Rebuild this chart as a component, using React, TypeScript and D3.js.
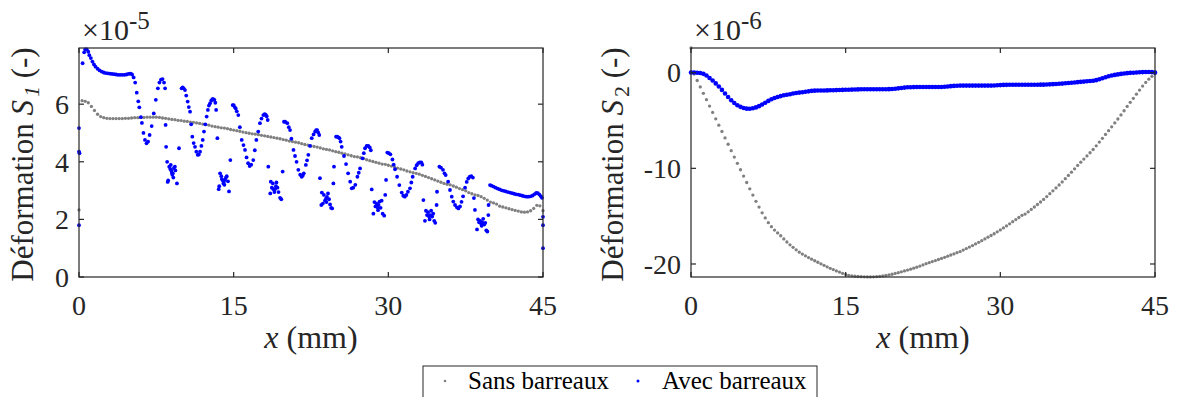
import React from "react";
import * as d3 from "d3";

// ---- data ----
const xTicks = [0, 15, 30, 45];
const yTicksS1 = [0, 2, 4, 6];
const yTicksS2 = [0, -10, -20];
const seriesNames = ["Sans barreaux", "Avec barreaux"];
const xStep = 0.3; // sampling step (mm) of the smooth series

// S1, sans barreaux (x1e-5), x = 0, 0.3, ... 45
const sansS1 = [
  2.33, 6.12, 6.10, 6.05, 5.92, 5.78, 5.65, 5.57, 5.53, 5.51,
  5.50, 5.50, 5.50, 5.50, 5.50, 5.51, 5.51, 5.52, 5.53, 5.53,
  5.54, 5.54, 5.55, 5.55, 5.55, 5.55, 5.54, 5.52, 5.51, 5.49,
  5.47, 5.46, 5.44, 5.43, 5.41, 5.40, 5.38, 5.37, 5.35, 5.33,
  5.31, 5.29, 5.27, 5.24, 5.22, 5.20, 5.18, 5.17, 5.15, 5.12,
  5.10, 5.08, 5.06, 5.03, 5.01, 4.99, 4.97, 4.96, 4.94, 4.92,
  4.90, 4.88, 4.86, 4.84, 4.82, 4.80, 4.77, 4.75, 4.72, 4.70,
  4.68, 4.66, 4.63, 4.60, 4.58, 4.55, 4.53, 4.51, 4.48, 4.45,
  4.43, 4.41, 4.38, 4.35, 4.33, 4.30, 4.27, 4.24, 4.21, 4.18,
  4.17, 4.14, 4.11, 4.07, 4.04, 4.01, 3.98, 3.95, 3.92, 3.91,
  3.88, 3.85, 3.82, 3.78, 3.75, 3.72, 3.68, 3.65, 3.62, 3.60,
  3.57, 3.53, 3.49, 3.45, 3.41, 3.37, 3.33, 3.29, 3.25, 3.22,
  3.20, 3.16, 3.12, 3.07, 3.03, 2.99, 2.93, 2.89, 2.85, 2.83,
  2.79, 2.73, 2.67, 2.60, 2.57, 2.53, 2.46, 2.43, 2.40, 2.37,
  2.34, 2.31, 2.29, 2.26, 2.25, 2.26, 2.30, 2.38, 2.49, 2.47,
  2.30,
];

// S1, avec barreaux (x1e-5) as [x mm, value]
const avecS1: [number, number][] = [
  [0, 1.8], [0, 4.35], [0, 5.17], [0.05, 4.3],
  [0.35, 7.42], [0.5, 7.8], [0.6, 7.9], [0.75, 7.9], [0.9, 7.82], [1.0, 7.7], [1.15, 7.6], [1.3, 7.48],
  [1.45, 7.38], [1.6, 7.3], [1.8, 7.23], [2.0, 7.17], [2.2, 7.13], [2.4, 7.1], [2.6, 7.08], [2.8, 7.07],
  [3.0, 7.06], [3.2, 7.05], [3.4, 7.04], [3.6, 7.03], [3.8, 7.02], [4.0, 7.02], [4.2, 7.02], [4.4, 7.02],
  [4.6, 7.03], [4.8, 7.05], [5.0, 7.06], [5.15, 7.03], [5.3, 6.93], [5.45, 6.75], [5.6, 6.4], [5.75, 6.1],
  [5.85, 5.89], [6.0, 5.55], [6.1, 5.35], [6.25, 5.0], [6.4, 4.76], [6.55, 4.64], [6.7, 4.7], [6.85, 4.93],
  [7.05, 5.24], [7.25, 5.68], [7.45, 6.15], [7.65, 6.55], [7.8, 6.75], [7.95, 6.85], [8.1, 6.87], [8.25, 6.75],
  [8.35, 6.55], [8.4, 5.28], [8.45, 4.52], [8.55, 4.0],
  [8.6, 3.3], [8.65, 3.35], [8.75, 3.83], [8.85, 3.75], [8.9, 3.89], [8.95, 3.7], [9.0, 3.62], [9.05, 3.55],
  [9.1, 3.6], [9.15, 3.45], [9.2, 3.78], [9.3, 3.83], [9.35, 3.7], [9.5, 3.25], [9.7, 4.47],
  [9.95, 6.55], [10.05, 6.58], [10.15, 6.55], [10.28, 6.49], [10.4, 6.3], [10.54, 6.09], [10.65, 5.9],
  [10.77, 5.74], [10.88, 5.3], [10.99, 4.87], [11.12, 4.65], [11.25, 4.52], [11.38, 4.35], [11.51, 4.24],
  [11.62, 4.25], [11.74, 4.35], [11.87, 4.55], [12.0, 4.76], [12.12, 5.05], [12.25, 5.3], [12.38, 5.57],
  [12.5, 5.8], [12.6, 5.95], [12.71, 6.03], [12.82, 6.12], [12.93, 6.17], [13.03, 6.17], [13.13, 6.15],
  [13.22, 6.05], [13.3, 5.8], [13.42, 4.82],
  [13.55, 3.05], [13.6, 3.15], [13.68, 3.6], [13.8, 3.5], [13.85, 3.4], [13.95, 3.35], [14.0, 3.25],
  [14.05, 3.3], [14.1, 3.2], [14.17, 3.38], [14.25, 3.45], [14.33, 3.5], [14.45, 3.32], [14.55, 2.97], [14.68, 4.06],
  [14.9, 5.97], [15.0, 5.97], [15.1, 5.9], [15.2, 5.85], [15.3, 5.75], [15.45, 5.62], [15.6, 5.2], [15.78, 4.76],
  [15.95, 4.58], [16.1, 4.41], [16.25, 4.15], [16.4, 3.95], [16.55, 3.85], [16.7, 3.9], [16.9, 4.06],
  [17.05, 4.4], [17.2, 4.76], [17.38, 5.05], [17.55, 5.34], [17.7, 5.5], [17.88, 5.62], [18.0, 5.65],
  [18.1, 5.64], [18.2, 5.58], [18.3, 5.45], [18.36, 3.83],
  [18.55, 2.9], [18.6, 3.31], [18.7, 3.1], [18.8, 3.25], [18.85, 3.05], [18.95, 2.95], [19.0, 3.05],
  [19.1, 3.15], [19.15, 3.28], [19.25, 3.1], [19.35, 2.95], [19.5, 2.75], [19.62, 2.7], [19.75, 3.66],
  [19.88, 5.39], [20.0, 5.39], [20.2, 5.34], [20.35, 5.2], [20.47, 5.1], [20.6, 4.8], [20.8, 4.41],
  [20.95, 4.2], [21.1, 4.0], [21.27, 3.72], [21.45, 3.55], [21.6, 3.48], [21.7, 3.52], [21.8, 3.6],
  [22.0, 3.89], [22.12, 4.05], [22.24, 4.24], [22.4, 4.55], [22.57, 4.82], [22.75, 4.95], [22.9, 5.05],
  [23.0, 5.1], [23.1, 5.1], [23.2, 5.02], [23.3, 4.93], [23.37, 3.43],
  [23.5, 2.5], [23.55, 2.93], [23.65, 2.55], [23.75, 2.85], [23.85, 2.65], [23.95, 2.72], [24.0, 2.6],
  [24.05, 2.78], [24.15, 2.9], [24.25, 2.7], [24.35, 2.52], [24.45, 2.4], [24.55, 2.38], [24.67, 3.25], [24.73, 3.83],
  [24.93, 4.87], [25.05, 4.87], [25.15, 4.85], [25.26, 4.82], [25.37, 4.7], [25.48, 4.52], [25.7, 4.2],
  [25.9, 3.92], [26.1, 3.6], [26.3, 3.31], [26.45, 3.08], [26.6, 3.1], [26.8, 3.2], [27.0, 3.48],
  [27.13, 3.62], [27.26, 3.77], [27.5, 4.12], [27.62, 4.3], [27.74, 4.47], [27.9, 4.55], [28.06, 4.55],
  [28.2, 4.5], [28.3, 4.4], [28.39, 3.04],
  [28.55, 2.2], [28.65, 2.6], [28.75, 2.45], [28.85, 2.55], [28.95, 2.42], [29.0, 2.32], [29.05, 2.5],
  [29.15, 2.62], [29.25, 2.4], [29.35, 2.65], [29.45, 2.2], [29.6, 2.13], [29.7, 2.85], [29.78, 3.37],
  [29.9, 4.32], [30.05, 4.3], [30.2, 4.26], [30.4, 4.08], [30.52, 3.9], [30.65, 3.74], [30.85, 3.48],
  [31.07, 3.19], [31.3, 2.93], [31.45, 2.82], [31.6, 2.79], [31.75, 2.85], [31.9, 2.96], [32.1, 3.08],
  [32.23, 3.28], [32.36, 3.48], [32.6, 3.77], [32.75, 3.88], [32.9, 3.95], [33.05, 3.98], [33.2, 3.98],
  [33.3, 3.9], [33.4, 2.67],
  [33.55, 1.95], [33.65, 2.3], [33.75, 2.15], [33.85, 2.25], [33.95, 2.1], [34.0, 2.0], [34.05, 2.15],
  [34.15, 2.3], [34.25, 2.1], [34.35, 2.2], [34.45, 1.95], [34.55, 1.88], [34.68, 2.5], [34.72, 2.96],
  [34.95, 3.83], [35.1, 3.8], [35.3, 3.72], [35.45, 3.6], [35.56, 3.54], [35.8, 3.31], [35.98, 3.02],
  [36.15, 2.79], [36.3, 2.62], [36.47, 2.5], [36.65, 2.42], [36.8, 2.38], [36.95, 2.45], [37.1, 2.61],
  [37.25, 2.8], [37.44, 3.1], [37.6, 3.3], [37.75, 3.42], [37.9, 3.48], [38.05, 3.5], [38.2, 3.45],
  [38.3, 2.74], [38.4, 2.33],
  [38.6, 1.65], [38.7, 2.0], [38.8, 1.9], [38.9, 1.95], [39.0, 1.85], [39.05, 1.78], [39.1, 1.9],
  [39.2, 2.02], [39.3, 1.82], [39.4, 1.88], [39.5, 1.62], [39.6, 1.58], [39.7, 2.15], [39.72, 2.5],
  [39.86, 3.19], [40.0, 3.17], [40.2, 3.14], [40.4, 3.1], [40.6, 3.07], [40.8, 3.04], [41.0, 3.01],
  [41.2, 2.99], [41.4, 2.97], [41.6, 2.95], [41.8, 2.93], [42.0, 2.91], [42.2, 2.89], [42.4, 2.87],
  [42.6, 2.86], [42.8, 2.84], [43.0, 2.82], [43.2, 2.8], [43.4, 2.79], [43.6, 2.79], [43.8, 2.8],
  [44.0, 2.83], [44.2, 2.88], [44.35, 2.92], [44.5, 2.91], [44.65, 2.86], [44.8, 2.8], [44.9, 2.75],
  [45, 2.09], [45, 1.8], [45, 1.0],
];

// S2, sans barreaux (x1e-6), x = 0, 0.3, ... 45
const sansS2 = [
  2.58, -0.15, -0.82, -1.49, -2.16, -2.82, -3.49, -4.15, -4.82, -5.49,
  -6.15, -6.82, -7.48, -8.15, -8.82, -9.48, -10.15, -10.81, -11.48, -12.14,
  -12.8, -13.45, -14.05, -14.65, -15.18, -15.68, -16.1, -16.45, -16.75, -17.05,
  -17.38, -17.7, -18.0, -18.26, -18.52, -18.76, -18.96, -19.15, -19.33, -19.5,
  -19.66, -19.82, -19.98, -20.14, -20.3, -20.45, -20.58, -20.72, -20.85, -20.98,
  -21.1, -21.18, -21.24, -21.28, -21.31, -21.33, -21.34, -21.35, -21.35, -21.34,
  -21.32, -21.29, -21.25, -21.2, -21.14, -21.07, -20.99, -20.91, -20.82, -20.73,
  -20.64, -20.54, -20.44, -20.33, -20.22, -20.1, -19.97, -19.86, -19.75, -19.64,
  -19.53, -19.42, -19.3, -19.18, -19.06, -18.94, -18.82, -18.7, -18.55, -18.39,
  -18.23, -18.07, -17.9, -17.73, -17.56, -17.38, -17.2, -17.02, -16.84, -16.64,
  -16.44, -16.23, -16.02, -15.8, -15.58, -15.36, -15.14, -14.91, -14.78, -14.55,
  -14.3, -14.04, -13.78, -13.52, -13.25, -12.95, -12.65, -12.35, -12.05, -11.74,
  -11.42, -11.08, -10.74, -10.4, -10.05, -9.7, -9.36, -9.03, -8.7, -8.37,
  -8.03, -7.65, -7.25, -6.86, -6.46, -6.06, -5.66, -5.25, -4.84, -4.42,
  -3.98, -3.53, -3.1, -2.68, -2.25, -1.82, -1.4, -1.02, -0.68, -0.38,
  -0.1,
];

// S2, avec barreaux (x1e-6), x = 0, 0.3, ... 45
const avecS2 = [
  0.02, 0.02, 0.0, -0.03, -0.12, -0.3, -0.55, -0.82, -1.12, -1.45,
  -1.8, -2.18, -2.55, -2.88, -3.17, -3.4, -3.57, -3.7, -3.76, -3.77,
  -3.72, -3.63, -3.5, -3.33, -3.14, -2.95, -2.78, -2.65, -2.55, -2.45,
  -2.36, -2.3, -2.25, -2.18, -2.12, -2.08, -2.04, -2.0, -1.95, -1.9,
  -1.88, -1.87, -1.86, -1.86, -1.85, -1.84, -1.83, -1.82, -1.81, -1.8,
  -1.79, -1.78, -1.77, -1.76, -1.75, -1.74, -1.74, -1.73, -1.73, -1.73,
  -1.73, -1.73, -1.73, -1.73, -1.72, -1.71, -1.68, -1.64, -1.6, -1.56,
  -1.53, -1.52, -1.51, -1.5, -1.5, -1.5, -1.5, -1.5, -1.5, -1.5,
  -1.5, -1.49, -1.47, -1.44, -1.41, -1.38, -1.36, -1.35, -1.35, -1.35,
  -1.35, -1.35, -1.35, -1.35, -1.35, -1.35, -1.35, -1.35, -1.34, -1.32,
  -1.3, -1.28, -1.27, -1.26, -1.26, -1.26, -1.26, -1.26, -1.26, -1.26,
  -1.26, -1.26, -1.26, -1.25, -1.25, -1.24, -1.22, -1.2, -1.18, -1.16,
  -1.14, -1.11, -1.08, -1.05, -1.02, -0.99, -0.96, -0.93, -0.9, -0.87,
  -0.84, -0.78, -0.68, -0.58, -0.47, -0.37, -0.29, -0.23, -0.18, -0.13,
  -0.09, -0.05, -0.02, 0.0, 0.02, 0.04, 0.06, 0.07, 0.07, 0.06,
  0.02,
];

const GRAY = "#808080";
const BLUE = "#0000ff";
const AX = "#262626";
const FONT = "'Liberation Serif', 'Times New Roman', serif";

type PanelProps = {
  left: number;
  right: number;
  yDomain: [number, number];
  yTicks: number[];
  sans: [number, number][];
  avec: [number, number][];
  avecR: number;
  exponent: string;
  sub: string;
  subItalic: boolean;
  labelX: number;
};

const TOP = 48;
const BOTTOM = 277;

function Panel(p: PanelProps) {
  const x = d3.scaleLinear().domain([0, 45]).range([p.left, p.right]);
  const y = d3.scaleLinear().domain(p.yDomain).range([BOTTOM, TOP]);
  const tl = 5;
  const cx = (p.left + p.right) / 2;
  const cy = (TOP + BOTTOM) / 2;
  return (
    <g>
      {p.sans.map((d, i) => (
        <circle key={"s" + i} cx={x(d[0])} cy={y(d[1])} r={1.65} fill={GRAY} />
      ))}
      {p.avec.map((d, i) => (
        <circle key={"a" + i} cx={x(d[0])} cy={y(d[1])} r={p.avecR} fill={BLUE} />
      ))}
      <rect x={p.left} y={TOP} width={p.right - p.left} height={BOTTOM - TOP} fill="none" stroke={AX} strokeWidth={1.2} />
      {xTicks.map((t) => (
        <g key={"xt" + t}>
          <line x1={x(t)} x2={x(t)} y1={BOTTOM} y2={BOTTOM - tl} stroke={AX} strokeWidth={1.2} />
          <line x1={x(t)} x2={x(t)} y1={TOP} y2={TOP + tl} stroke={AX} strokeWidth={1.2} />
          <text x={x(t)} y={315} textAnchor="middle" fontSize={28} fill={AX} fontFamily={FONT}>{t}</text>
        </g>
      ))}
      {p.yTicks.map((t) => (
        <g key={"yt" + t}>
          <line x1={p.left} x2={p.left + tl} y1={y(t)} y2={y(t)} stroke={AX} strokeWidth={1.2} />
          <line x1={p.right} x2={p.right - tl} y1={y(t)} y2={y(t)} stroke={AX} strokeWidth={1.2} />
          <text x={p.left - 10} y={y(t)} dy="0.35em" textAnchor="end" fontSize={28} fill={AX} fontFamily={FONT}>{t}</text>
        </g>
      ))}
      <text x={p.left + 3} y={40} fontSize={30} fill={AX} fontFamily={FONT}>
        ×10<tspan dy={-11} fontSize={25}>{p.exponent}</tspan>
      </text>
      <text x={cx} y={348} textAnchor="middle" fontSize={32} fill={AX} fontFamily={FONT}>
        <tspan fontStyle="italic">x</tspan> (mm)
      </text>
      <text transform={`translate(${p.labelX},${cy + 2}) rotate(-90)`} textAnchor="middle" fontSize={31} fill={AX} fontFamily={FONT}>
        Déformation <tspan fontStyle="italic">S</tspan>
        <tspan dx={3} dy={6} fontSize={22} fontStyle={p.subItalic ? "italic" : "normal"}>{p.sub}</tspan>
        <tspan dy={-6}> (-)</tspan>
      </text>
    </g>
  );
}

export default function App() {
  const grid = (vals: number[]): [number, number][] => vals.map((v, i) => [i * xStep, v]);
  return (
    <svg width={1177} height={397} style={{ position: "absolute", left: 0, top: 0, background: "#fff" }}>
      <rect width={1177} height={397} fill="#fff" />
      <Panel left={79} right={543} yDomain={[0, 7.95]} yTicks={yTicksS1}
        sans={grid(sansS1)} avec={avecS1} avecR={1.9} exponent="-5" sub="1" subItalic={true} labelX={33} />
      <Panel left={691} right={1155} yDomain={[-21.36, 2.58]} yTicks={yTicksS2}
        sans={grid(sansS2)} avec={grid(avecS2)} avecR={2.3} exponent="-6" sub="2" subItalic={false} labelX={623} />
      <g fontFamily={FONT} fontSize={25} fill="#000">
        <rect x={423} y={366} width={394} height={40} fill="#fff" stroke={AX} strokeWidth={1} />
        <circle cx={445} cy={381} r={1.3} fill={GRAY} />
        <text x={468} y={389}>{seriesNames[0]}</text>
        <circle cx={638} cy={381} r={1.5} fill={BLUE} />
        <text x={662} y={389}>{seriesNames[1]}</text>
      </g>
    </svg>
  );
}
